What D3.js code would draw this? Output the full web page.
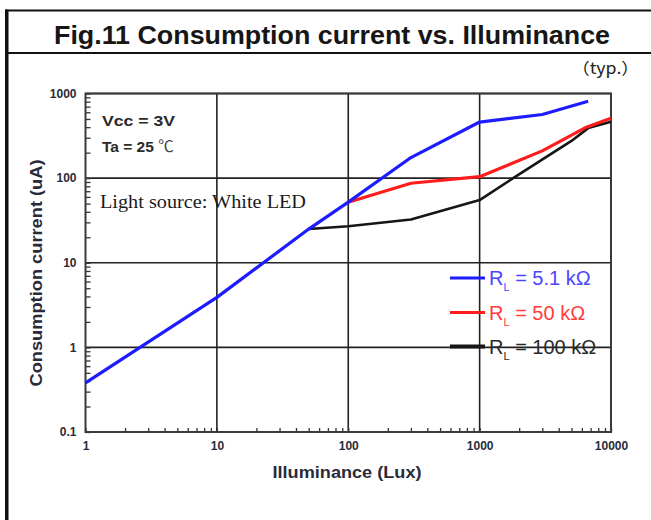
<!DOCTYPE html>
<html lang="en">
<head>
<meta charset="UTF-8">
<title>Fig.11 Consumption current vs. Illuminance</title>
<script src="https://d3js.org/d3.v7.min.js"></script>
<style>
    body, html {
        margin: 0;
        padding: 0;
        background: #ffffff;
    }
    svg text {
        font-family: "Liberation Sans", Arial, sans-serif;
    }
</style>
</head>
<body>
<div id="chart"></div>
<script>
// values (log-log)
const luxTicks = [1, 10, 100, 1000, 10000];
const uaTicks = [0.1, 1, 10, 100, 1000];

const seriesNames = ["5.1 kΩ", "50 kΩ", "100 kΩ"];
const seriesColors = ["#1c1cff", "#ff1c1c", "#161616"];
const textColors = ["#4a44ff", "#ff3b3b", "#2a2a2a"];

const lux51k = [1, 10, 50, 100, 300, 1000, 3000, 6700];
const ua51k = [0.38, 3.9, 25, 52, 175, 460, 565, 810];

const lux50k = [100, 300, 1000, 3000, 6500, 10000];
const ua50k = [52, 87, 104, 210, 400, 510];

const lux100k = [50, 100, 300, 1000, 1800, 5000, 6700, 10000];
const ua100k = [25, 27, 32.5, 55, 100, 275, 390, 465];

(function() {
    const width = 651;
    const height = 520;
    const plot = {left: 85.5, right: 611, top: 93.5, bottom: 432};

    const svg = d3.select("#chart")
        .append("svg")
        .attr("width", width)
        .attr("height", height);

    // frame of the figure
    svg.append("rect")
        .attr("x", 5).attr("y", 9.5)
        .attr("width", 3.5).attr("height", height - 9.5)
        .attr("fill", "#111");
    svg.append("line")
        .attr("x1", 5).attr("x2", width)
        .attr("y1", 10.5).attr("y2", 10.5)
        .attr("stroke", "#111").attr("stroke-width", 2);
    svg.append("line")
        .attr("x1", 5).attr("x2", width)
        .attr("y1", 53).attr("y2", 53)
        .attr("stroke", "#111").attr("stroke-width", 2);

    svg.append("text")
        .attr("x", 332).attr("y", 44)
        .attr("text-anchor", "middle")
        .attr("font-size", 26)
        .attr("font-weight", "bold")
        .attr("fill", "#161616")
        .attr("textLength", 556)
        .attr("lengthAdjust", "spacingAndGlyphs")
        .text("Fig.11 Consumption current vs. Illuminance");

    svg.append("text")
        .attr("x", 639).attr("y", 74)
        .attr("text-anchor", "end")
        .attr("font-size", 16)
        .attr("fill", "#222")
        .attr("style", "font-family: 'Noto Sans CJK JP', sans-serif")
        .attr("textLength", 67)
        .attr("lengthAdjust", "spacingAndGlyphs")
        .text("（typ.）");

    const x = d3.scaleLog().domain([1, 10000]).range([plot.left, plot.right]);
    const y = d3.scaleLog().domain([0.1, 1000]).range([plot.bottom, plot.top]);

    // major grid
    const grid = svg.append("g").attr("stroke", "#222").attr("stroke-width", 1.6);
    grid.selectAll(".gx").data(luxTicks.slice(1)).enter().append("line")
        .attr("x1", d => x(d)).attr("x2", d => x(d))
        .attr("y1", plot.top).attr("y2", plot.bottom);
    grid.selectAll(".gy").data(uaTicks.slice(1)).enter().append("line")
        .attr("x1", plot.left).attr("x2", plot.right)
        .attr("y1", d => y(d)).attr("y2", d => y(d));

    // minor ticks inside the axes
    const minorX = d3.axisBottom(x).tickSize(-4).tickFormat("");
    const minorY = d3.axisLeft(y).tickSize(-5).tickFormat("");
    const gmx = svg.append("g").attr("transform", `translate(0,${plot.bottom})`).call(minorX);
    const gmy = svg.append("g").attr("transform", `translate(${plot.left},0)`).call(minorY);
    [gmx, gmy].forEach(g => {
        g.select(".domain").remove();
        g.selectAll("line").attr("stroke", "#333").attr("stroke-width", 1.3);
    });

    // axis labels
    const xAxis = d3.axisBottom(x).tickValues(luxTicks).tickSize(0).tickPadding(9)
        .tickFormat(d => String(d));
    const yAxis = d3.axisLeft(y).tickValues(uaTicks).tickSize(0).tickPadding(9)
        .tickFormat(d => String(d));
    const gx = svg.append("g").attr("transform", `translate(0,${plot.bottom})`).call(xAxis);
    const gy = svg.append("g").attr("transform", `translate(${plot.left},0)`).call(yAxis);
    [gx, gy].forEach(g => {
        g.select(".domain").remove();
        g.selectAll("text")
            .attr("font-family", "'Liberation Sans', Arial, sans-serif")
            .attr("font-size", 12)
            .attr("font-weight", "bold")
            .attr("fill", "#2a2a3a");
    });

    // plot border (left/bottom axis, top/right edges)
    svg.append("rect")
        .attr("x", plot.left).attr("y", plot.top)
        .attr("width", plot.right - plot.left)
        .attr("height", plot.bottom - plot.top)
        .attr("fill", "none")
        .attr("stroke", "#3a3a3a")
        .attr("stroke-width", 2);

    // axis titles
    svg.append("text")
        .attr("x", 347).attr("y", 478)
        .attr("text-anchor", "middle")
        .attr("font-size", 17)
        .attr("font-weight", "bold")
        .attr("fill", "#2a2a3a")
        .attr("textLength", 149)
        .attr("lengthAdjust", "spacingAndGlyphs")
        .text("Illuminance (Lux)");

    svg.append("text")
        .attr("transform", "translate(42,273) rotate(-90)")
        .attr("text-anchor", "middle")
        .attr("font-size", 17)
        .attr("font-weight", "bold")
        .attr("fill", "#2a2a3a")
        .attr("textLength", 227)
        .attr("lengthAdjust", "spacingAndGlyphs")
        .text("Consumption current (uA)");

    // notes inside the plot
    svg.append("text")
        .attr("x", 102).attr("y", 126)
        .attr("font-size", 15.5).attr("font-weight", "bold").attr("fill", "#2a2a2a")
        .attr("textLength", 73).attr("lengthAdjust", "spacingAndGlyphs")
        .text("Vcc = 3V");
    const ta = svg.append("text")
        .attr("x", 102).attr("y", 152)
        .attr("font-size", 15.5).attr("font-weight", "bold").attr("fill", "#2a2a2a");
    ta.append("tspan").text("Ta = 25 ");
    ta.append("tspan").attr("font-weight", "normal").attr("fill", "#444")
        .attr("style", "font-family: 'Noto Sans CJK JP', sans-serif").text("℃");

    svg.append("text")
        .attr("x", 100).attr("y", 208)
        .attr("font-size", 19.5).attr("fill", "#1a1a1a")
        .attr("style", "font-family: 'Liberation Serif', 'Times New Roman', serif")
        .attr("textLength", 206).attr("lengthAdjust", "spacingAndGlyphs")
        .text("Light source: White LED");

    // curves
    const line = d3.line().x(d => x(d[0])).y(d => y(d[1]));
    const series = [
        d3.zip(lux100k, ua100k),
        d3.zip(lux50k, ua50k),
        d3.zip(lux51k, ua51k)
    ];
    const seriesIdx = [2, 1, 0];
    svg.append("g").selectAll("path")
        .data(series).enter().append("path")
        .attr("d", line)
        .attr("fill", "none")
        .attr("stroke", (d, i) => seriesColors[seriesIdx[i]])
        .attr("stroke-width", (d, i) => seriesIdx[i] === 2 ? 2.6 : 3.2)
        .attr("stroke-linejoin", "round");

    // legend
    const legY = [278, 312.5, 346.5];
    const leg = svg.append("g").selectAll("g")
        .data(seriesNames).enter().append("g")
        .attr("transform", (d, i) => `translate(450,${legY[i]})`);
    leg.append("line")
        .attr("x1", 0).attr("x2", 35)
        .attr("stroke", (d, i) => seriesColors[i])
        .attr("stroke-width", (d, i) => i === 2 ? 4 : 3);
    const lt = leg.append("text")
        .attr("x", 39).attr("y", 7)
        .attr("font-size", 20)
        .attr("fill", (d, i) => textColors[i]);
    lt.append("tspan").text("R");
    lt.append("tspan").attr("font-size", 11).attr("dy", 6).text("L");
    lt.append("tspan").attr("dy", -6).text(d => " = " + d);
})();
</script>
</body>
</html>
